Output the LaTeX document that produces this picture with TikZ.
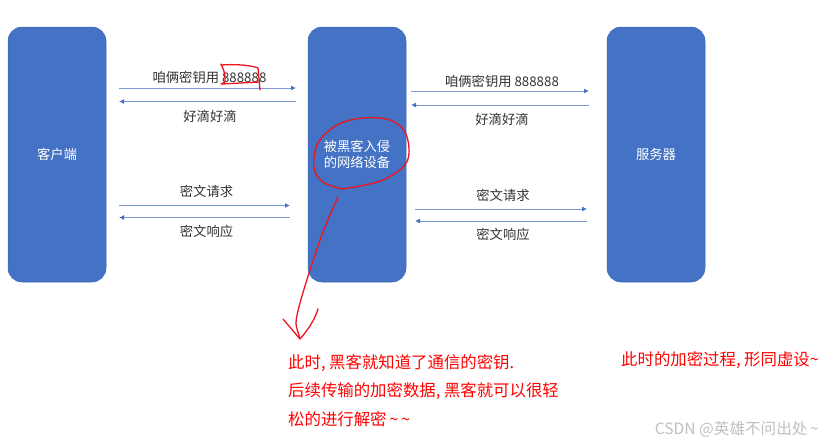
\documentclass[tikz,border=0pt]{standalone}
\usepackage{fontspec}
\setmainfont{Noto Sans CJK SC}
\usetikzlibrary{arrows.meta}
\definecolor{boxblue}{HTML}{4472C4}
\definecolor{linkblue}{HTML}{7C9BD6}
\definecolor{inkred}{HTML}{F0141E}
\newcommand{\wave}{\textasciitilde}
\tikzset{
  hostbox/.style={draw=boxblue!92!black,line width=0.5pt,fill=boxblue,rounded corners=14pt,minimum width=98pt,minimum height=255pt,inner sep=0pt,text=white,font=\fontsize{13.3}{16.7}\selectfont,align=center},
  link/.style={draw=linkblue,line width=0.9pt,-{Latex[length=5pt,width=5pt,color=boxblue]}},
  lab/.style={inner sep=0pt,text=black!80,font=\fontsize{13.3}{16}\selectfont},
  redtext/.style={inner sep=0pt,anchor=west,text=red,font=\fontsize{16.4}{20}\selectfont},
  scribble/.style={draw=inkred,line width=1.3pt,line cap=round,line join=round},
  mark wm/.style={inner sep=0pt,anchor=east,text=black!25,font=\fontsize{15.6}{18}\selectfont}
}
\begin{document}
\begin{tikzpicture}[x=1pt,y=-1pt]
\useasboundingbox (0,0) rectangle (831,445);
\node[hostbox] (client) at (57,154.5) {客户端};
\node[hostbox] (device) at (357,154.5) {被黑客入侵\\的网络设备};
\node[hostbox] (server) at (656,154.5) {服务器};
% left links
\coordinate (a1) at (119,88);   \coordinate (a2) at (296,88);
\coordinate (b1) at (296,101.5);\coordinate (b2) at (119,101.5);
\coordinate (c1) at (119,205.5);\coordinate (c2) at (290,205.5);
\coordinate (d1) at (290,217.5);\coordinate (d2) at (119,217.5);
% right links
\coordinate (e1) at (411,91);   \coordinate (e2) at (589,91);
\coordinate (f1) at (589,105);  \coordinate (f2) at (411,105);
\coordinate (g1) at (415,209);  \coordinate (g2) at (587,209);
\coordinate (h1) at (587,221);  \coordinate (h2) at (415,221);
\foreach \s/\t in {a1/a2,b1/b2,c1/c2,d1/d2,e1/e2,f1/f2,g1/g2,h1/h2}{\draw[link] (\s) -- (\t);}
\node[lab] (l1) at (209.5,77.5) {咱俩密钥用 888888};
\node[lab] (l2) at (210,116) {好滴好滴};
\node[lab] (l3) at (206.5,191) {密文请求};
\node[lab] (l4) at (206.5,231) {密文响应};
\node[lab] (r1) at (502,81) {咱俩密钥用 888888};
\node[lab] (r2) at (502,119.5) {好滴好滴};
\node[lab] (r3) at (503,195) {密文请求};
\node[lab] (r4) at (503,234.5) {密文响应};
% red marks
\draw[scribble] (221,64) .. controls (223,69) and (225,72) .. (225,77) -- (225,82) -- (221,84);
\draw[scribble] (221,65) .. controls (235,64) and (250,65) .. (258,68) -- (260,90);
\draw[scribble] (222,84) -- (259,82);
\draw[scribble] plot[smooth,tension=0.6] coordinates {(342,189) (323,182) (314,167) (318,143) (337,125) (363,118) (390,120) (405,132) (409,153) (403,167) (383,180) (360,186) (342,189)};
\draw[scribble] plot[smooth,tension=0.5] coordinates {(338,197) (323,232) (310,270) (300,303) (296,323) (300,338)};
\draw[scribble] (283,319) -- (300,339) .. controls (306,332) and (314,322) .. (318,309);
\node[redtext] (t1) at (288,363) {此时, 黑客就知道了通信的密钥.};
\node[redtext] (t2) at (288,391.5) {后续传输的加密数据, 黑客就可以很轻};
\node[redtext] (t3) at (288,419.5) {松的进行解密\,\wave\,\wave};
\node[redtext] (t4) at (621,360) {此时的加密过程, 形同虚设\wave};
\node[mark wm] (wm) at (819,429) {CSDN @英雄不问出处\,\wave};
\end{tikzpicture}
\end{document}
